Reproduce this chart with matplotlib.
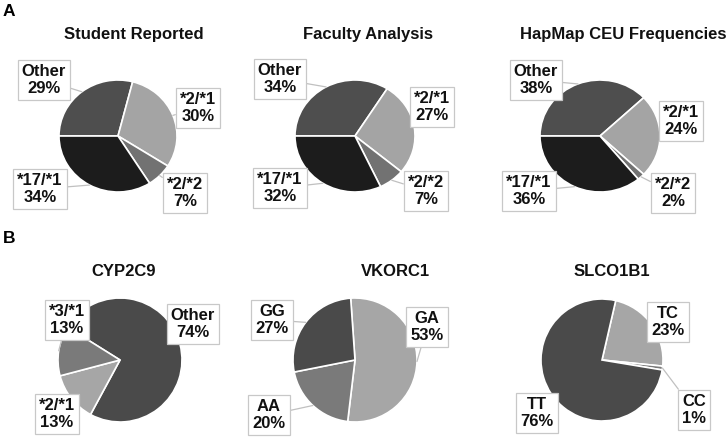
import numpy as np
import matplotlib
matplotlib.use("Agg")
import matplotlib.pyplot as plt

plt.rcParams['font.family'] = ['Liberation Sans', 'DejaVu Sans']

W, H = 728, 443

# ---- data ----
titles_a = ["Student Reported", "Faculty Analysis", "HapMap CEU Frequencies"]
labels_a = ["Other", "*2/*1", "*2/*2", "*17/*1"]
student = [29, 30, 7, 34]
faculty = [34, 27, 7, 32]
hapmap = [38, 24, 2, 36]

labels_cyp = ["Other", "*2/*1", "*3/*1"]
cyp2c9 = [74, 13, 13]
labels_vk = ["GA", "AA", "GG"]
vkorc1 = [53, 20, 27]
labels_sl = ["TC", "CC", "TT"]
slco1b1 = [23, 1, 76]

# ---- layout (pixels) ----
pies = [
    dict(vals=student, labels=labels_a, title=titles_a[0], c=(118, 136), r=(59, 56), start=180,
         tx=134, ty=35, cols=['#4e4e4e', '#a4a4a4', '#727272', '#1c1c1c'],
         lab=[(44, 80), (198, 108), (185, 193), (40, 189)]),
    dict(vals=faculty, labels=labels_a, title=titles_a[1], c=(355, 136), r=(60, 56), start=180,
         tx=368, ty=35, cols=['#4e4e4e', '#a4a4a4', '#727272', '#1c1c1c'],
         lab=[(280, 79), (432, 107), (426, 191), (280, 188)]),
    dict(vals=hapmap, labels=labels_a, title=titles_a[2], c=(600, 136), r=(60, 56), start=180,
         tx=623, ty=35, cols=['#4e4e4e', '#a4a4a4', '#727272', '#1c1c1c'],
         lab=[(536, 80), (681, 121), (673, 193), (529, 191)]),
    dict(vals=cyp2c9, labels=labels_cyp, title="CYP2C9", c=(120, 360), r=(62, 62), start=148,
         tx=124, ty=272, cols=['#4a4a4a', '#a6a6a6', '#7a7a7a'],
         lab=[(193, 324), (57, 414), (67, 320)]),
    dict(vals=vkorc1, labels=labels_vk, title="VKORC1", c=(355, 360), r=(62, 62), start=94,
         tx=395, ty=272, cols=['#a6a6a6', '#7a7a7a', '#4a4a4a'],
         lab=[(427, 327), (269, 415), (272, 320)]),
    dict(vals=slco1b1, labels=labels_sl, title="SLCO1B1", c=(602, 360), r=(61, 61), start=77,
         tx=612, ty=272, cols=['#a6a6a6', '#7a7a7a', '#4a4a4a'],
         lab=[(668, 322), (694, 410), (537, 413)]),
]

fig = plt.figure(figsize=(W / 100, H / 100), dpi=100)

for p in pies:
    cx, cy = p['c']
    rx, ry = p['r']
    ax = fig.add_axes([(cx - rx) / W, 1 - (cy + ry) / H, 2 * rx / W, 2 * ry / H])
    wedges, _ = ax.pie(p['vals'], colors=p['cols'], startangle=p['start'], counterclock=False,
                       radius=1, wedgeprops=dict(edgecolor='white', linewidth=1.2))
    ax.set_xlim(-1, 1)
    ax.set_ylim(-1, 1)
    ax.set_aspect('auto')
    ax.axis('off')
    for w, lab, v, (lx, ly) in zip(wedges, p['labels'], p['vals'], p['lab']):
        mid = np.deg2rad((w.theta1 + w.theta2) / 2)
        ex, ey = np.cos(mid), np.sin(mid)
        tx_, ty_ = (lx - cx) / rx, -(ly - cy) / ry
        ax.annotate(f"{lab}\n{v}%", xy=(ex, ey), xytext=(tx_, ty_),
                    ha='center', va='center', fontsize=12, fontweight='bold',
                    color='#111111', linespacing=1.2, annotation_clip=False,
                    bbox=dict(boxstyle='square,pad=0.25', fc='white', ec='#c8c8c8', lw=0.9),
                    arrowprops=dict(arrowstyle='-', color='#c0c0c0', lw=0.9,
                                    shrinkA=0, shrinkB=0))
    fig.text(p['tx'] / W, 1 - p['ty'] / H, p['title'], ha='center', va='center',
             fontsize=12, fontweight='bold', color='#111111')

fig.text(9 / W, 1 - 12 / H, "A", ha='center', va='center', fontsize=12.5, fontweight='bold')
fig.text(9 / W, 1 - 239 / H, "B", ha='center', va='center', fontsize=12.5, fontweight='bold')

fig.savefig("out.png", dpi=100)
